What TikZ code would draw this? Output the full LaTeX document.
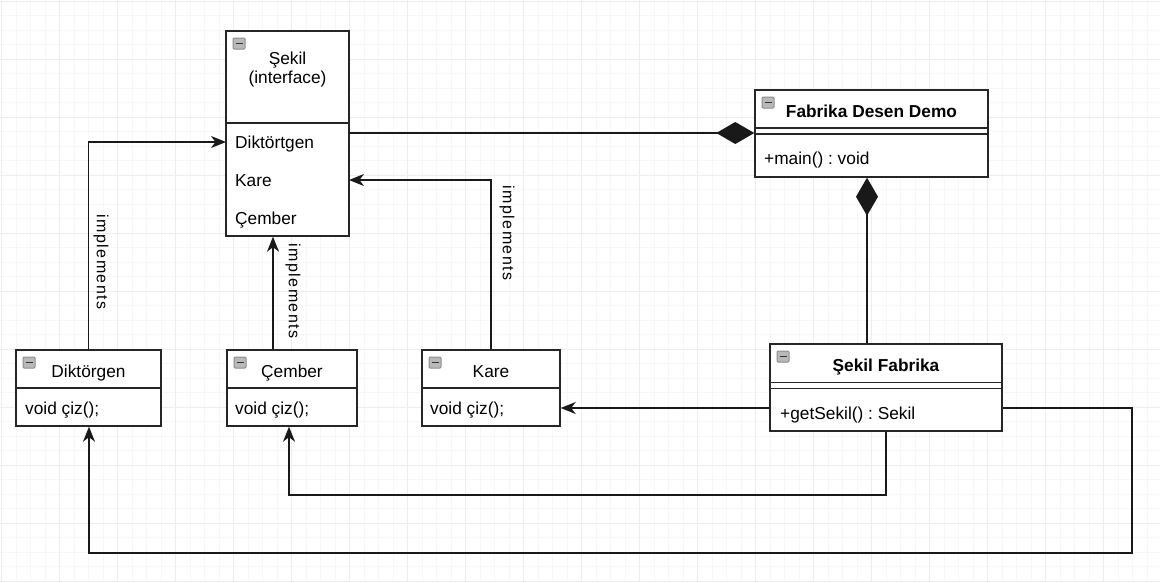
\documentclass[tikz,border=0pt]{standalone}
\usepackage{fontspec}
\setmainfont{Liberation Sans}
\usetikzlibrary{arrows.meta,calc}
\frenchspacing
\tikzset{
  box/.style={draw=black!85,line width=1.4pt,fill=white,inner sep=0pt,minimum width=#1},
  dline/.style={draw=black!85,line width=1.4pt},
  conn/.style={line width=1.5pt,draw=black!90},
  arr/.style={conn,-{Stealth[length=15pt,width=12pt,inset=4.5pt]}},
  dia/.style={conn,-{Diamond[length=38pt,width=22pt]}},
  txt/.style={inner sep=0pt,text height=12.6pt,text depth=3.6pt,yshift=-1.5pt,font=\fontsize{17.3}{20}\selectfont\frenchspacing},
  btxt/.style={txt,font=\fontsize{17.3}{20}\selectfont\bfseries\frenchspacing},
  lbl/.style={inner sep=0pt,rotate=-90,font=\fontsize{16}{19}\selectfont\addfontfeature{LetterSpace=9}},
  colicon/.pic={
    \draw[gray!90,fill=gray!55,line width=1pt,rounded corners=1pt] (0,0) rectangle (12,11);
    \draw[black!80,line width=1.9pt] (2.5,5.5) -- (9.5,5.5);
  }
}
\begin{document}
\begin{tikzpicture}[x=1pt,y=-1pt]
\useasboundingbox (0,0) rectangle (1160,582);
% grid
\fill[white] (0,0) rectangle (1160,582);
\foreach \i in {0,...,80} {
  \draw[gray!6,line width=0.8pt] ({1.7+14.5*\i},0) -- ({1.7+14.5*\i},582);
}
\foreach \j in {0,...,40} {
  \draw[gray!6,line width=0.8pt] (0,{1.3+14.5*\j}) -- (1160,{1.3+14.5*\j});
}
\foreach \i in {0,...,20} {
  \draw[gray!14,line width=1pt] ({1.7+58*\i},0) -- ({1.7+58*\i},582);
}
\foreach \j in {0,...,10} {
  \draw[gray!14,line width=1pt] (0,{1.3+58*\j}) -- (1160,{1.3+58*\j});
}

% ---- class boxes ----
% Sekil interface
\node[box=123pt,minimum height=205pt] (sekil) at (287.5,133.5) {};
\draw[dline] (sekil.west |- 0,123) -- (sekil.east |- 0,123);
\pic at (233,38) {colicon};
\node[txt] (st1) at (287.5,58) {Şekil};
\node[txt] (st2) at (287.5,77.5) {(interface)};
\node[txt,anchor=west] (si1) at (235,142) {Diktörtgen};
\node[txt,anchor=west] (si2) at (235,180) {Kare};
\node[txt,anchor=west] (si3) at (235,218) {Çember};

% Fabrika Desen Demo
\node[box=233pt,minimum height=87pt] (fab) at (871.5,133.5) {};
\draw[dline] (fab.west |- 0,128) -- (fab.east |- 0,128);
\draw[dline] (fab.west |- 0,134) -- (fab.east |- 0,134);
\pic at (762,97) {colicon};
\node[btxt] (ft) at (871.5,111) {Fabrika Desen Demo};
\node[txt,anchor=west] (fm) at (764,158.5) {+main() : void};

% Sekil Fabrika
\node[box=232pt,minimum height=87pt] (sf) at (886,387.5) {};
\draw[dline] (sf.west |- 0,382.5) -- (sf.east |- 0,382.5);
\draw[dline] (sf.west |- 0,388.5) -- (sf.east |- 0,388.5);
\pic at (777,351) {colicon};
\node[btxt] (sft) at (886,365) {Şekil Fabrika};
\node[txt,anchor=west] (sfm) at (780,413.5) {+getSekil() : Sekil};

% Diktorgen
\node[box=145pt,minimum height=76pt] (dik) at (88.5,388) {};
\draw[dline] (dik.west |- 0,388) -- (dik.east |- 0,388);
\pic at (23,357) {colicon};
\node[txt] (dt) at (88.5,371) {Diktörgen};
\node[txt,anchor=west] (dm) at (25,408.5) {void çiz();};

% Cember
\node[box=130pt,minimum height=76pt] (cem) at (292,388) {};
\draw[dline] (cem.west |- 0,388) -- (cem.east |- 0,388);
\pic at (234,357) {colicon};
\node[txt] (ct) at (292,371) {Çember};
\node[txt,anchor=west] (cm) at (235,408.5) {void çiz();};

% Kare
\node[box=138pt,minimum height=76pt] (kare) at (491,388) {};
\draw[dline] (kare.west |- 0,388) -- (kare.east |- 0,388);
\pic at (429,357) {colicon};
\node[txt] (kt) at (491,371) {Kare};
\node[txt,anchor=west] (km) at (430,408.5) {void çiz();};

% ---- helper coordinates ----
\coordinate (rowD) at (226,142);
\coordinate (rowK) at (349,180);
\coordinate (cx) at (273,0);
\coordinate (dx) at (867,0);
\coordinate (r408) at (0,408);
\coordinate (c1) at (289,495);
\coordinate (c2) at (1132,553);
\coordinate (c3) at (89,553);

% ---- connectors ----
\draw[dia] (sekil.east |- 0,133) -- (fab.west |- 0,133);
\draw[dia] (sf.north -| dx) -- (fab.south -| dx);
\draw[arr] (dik.north) |- (rowD);
\draw[arr] (cem.north -| cx) -- (sekil.south -| cx);
\draw[arr] (kare.north) |- (rowK);
\draw[arr] (sf.west |- r408) -- (kare.east |- r408);
\draw[arr] (sf.south) |- (c1) -- (cem.south -| c1);
\draw[arr] (sf.east |- r408) -| (c2) -- (c3) -- (dik.south -| c3);

% ---- labels ----
\node[lbl] (l1) at (101,262) {implements};
\node[lbl] (l2) at (293,291) {implements};
\node[lbl] (l3) at (507,233) {implements};
\end{tikzpicture}
\end{document}
